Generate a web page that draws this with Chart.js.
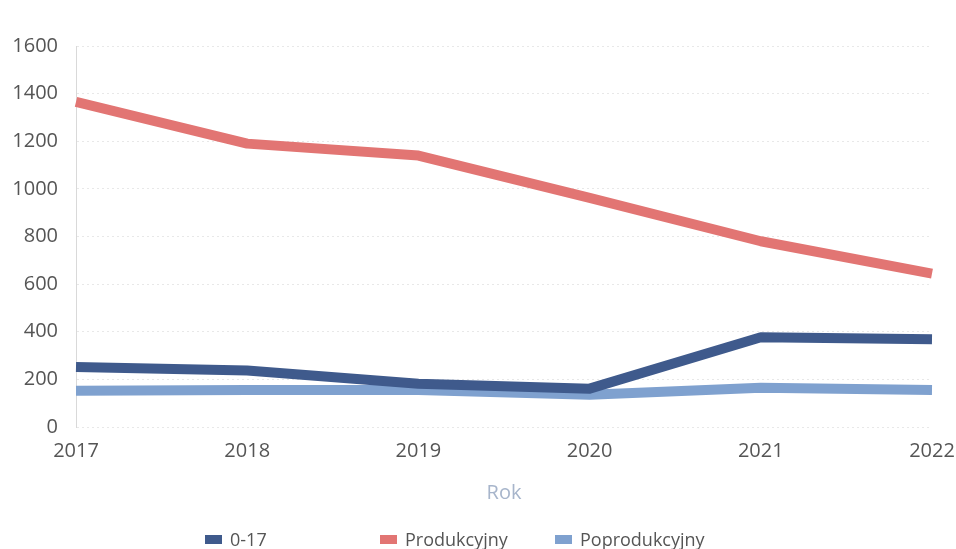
<!DOCTYPE html>
<html>
<head>
<meta charset="utf-8">
<script src="https://cdn.jsdelivr.net/npm/chart.js@4"></script>
<style>
html,body{margin:0;padding:0;background:#fff;overflow:hidden;}
#wrap{position:relative;width:956px;height:549px;}
canvas{display:block;}
#legend{position:absolute;left:205px;top:527px;display:flex;font-family:"Open Sans",sans-serif;font-size:18px;line-height:24px;color:#555;}
#legend .it{width:175px;display:flex;align-items:center;white-space:nowrap;}
#legend .bx{width:17px;height:9px;margin-right:8px;}
</style>
</head>
<body>
<div id="wrap">
<canvas id="c" width="956" height="549"></canvas>
<div id="legend"></div>
</div>
<script>
const categories = ["2017","2018","2019","2020","2021","2022"];
const seriesNames = ["0-17","Produkcyjny","Poprodukcyjny"];
const age0to17 = [252, 237, 182, 161, 377, 368];
const produkcyjny = [1365, 1190, 1140, 962, 780, 644];
const poprodukcyjny = [152, 155, 155, 135, 165, 155];
const yTicks = [0,200,400,600,800,1000,1200,1400,1600];
const xTitle = "Rok";

const colors = ["#3f5a8c", "#e27573", "#7fa1cf"];
const values = [age0to17, produkcyjny, poprodukcyjny];

const ctx = document.getElementById('c');
const chart = new Chart(ctx, {
  type: 'line',
  data: {
    labels: categories,
    datasets: seriesNames.map((n,i)=>({
      label: n,
      data: values[i],
      borderColor: colors[i],
      backgroundColor: colors[i],
      borderWidth: 10,
      pointRadius: 0,
      tension: 0,
      borderJoinStyle: 'round',
      borderCapStyle: 'butt',
      fill: false
    }))
  },
  options: {
    responsive: false,
    animation: false,
    layout: { padding: { left: 10, right: 0, top: 46, bottom: 40 } },
    plugins: { legend: { display: false }, tooltip: { enabled: false } },
    scales: {
      x: {
        grid: { display: false, drawTicks: false },
        border: { display: false },
        offset: false,
        afterFit: (s) => { s.paddingLeft = 0; s.paddingRight = 24; },
        ticks: { color: '#555', font: { family: 'Open Sans', size: 20 }, padding: 12, maxRotation: 0 },
        title: { display: true, text: xTitle, color: '#a7b5cb', font: { family: 'Open Sans', size: 20 }, padding: { top: 6, bottom: 4 } }
      },
      y: {
        min: 0, max: 1600,
        afterBuildTicks: (s) => { s.ticks = yTicks.map(v=>({value:v})); },
        afterFit: (s) => { s.width = 66; },
        grid: { color: 'rgba(0,0,0,0.09)', drawTicks: false, lineWidth: 1 },
        border: { display: true, dash: [2,3], color: 'rgba(0,0,0,0.15)' },
        ticks: { color: '#555', font: { family: 'Open Sans', size: 20 }, padding: 18, callback: (v) => String(v) }
      }
    }
  }
});

const lg = document.getElementById('legend');
seriesNames.forEach((n,i)=>{
  const it = document.createElement('div'); it.className='it';
  const b = document.createElement('span'); b.className='bx'; b.style.background=colors[i];
  const t = document.createElement('span'); t.textContent=n;
  it.appendChild(b); it.appendChild(t); lg.appendChild(it);
});
</script>
</body>
</html>
